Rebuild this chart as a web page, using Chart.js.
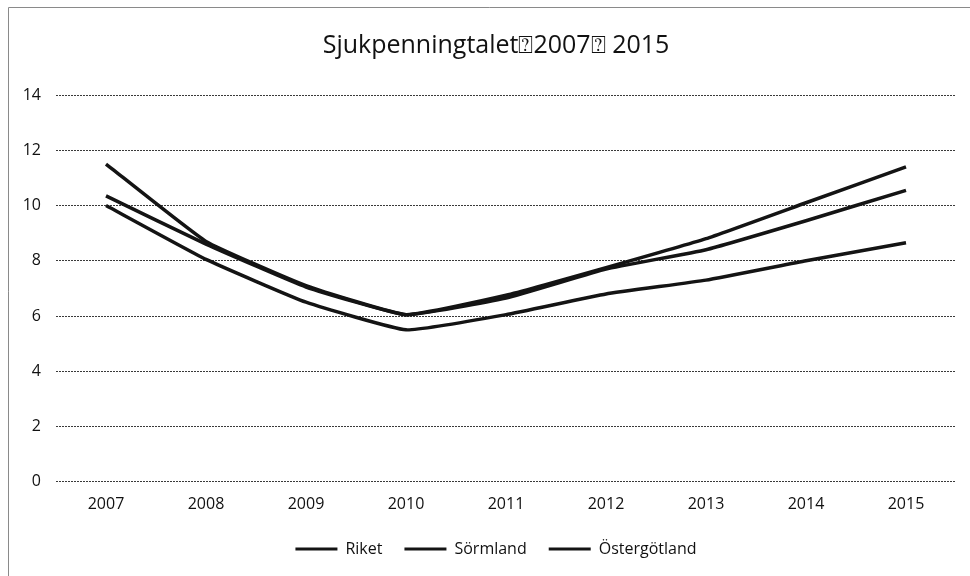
<!DOCTYPE html>
<html>
<head>
<meta charset="utf-8">
<script src="https://cdn.jsdelivr.net/npm/chart.js@4.4.1/dist/chart.umd.min.js"></script>
<style>
  html,body{margin:0;padding:0;background:#fff;}
  #wrap{width:970px;height:576px;position:relative;}
</style>
</head>
<body>
<div id="wrap"><canvas id="c" width="970" height="576"></canvas></div>
<script>
const titleText = "Sjukpenningtalet\u23702007\u2370 2015";
const years = ["2007","2008","2009","2010","2011","2012","2013","2014","2015"];
const riket = [10.35, 8.6, 7.05, 6.05, 6.65, 7.7, 8.4, 9.45, 10.55];
const sormland = [11.5, 8.7, 7.1, 6.05, 6.75, 7.75, 8.8, 10.1, 11.4];
const ostergotland = [10.0, 8.05, 6.5, 5.5, 6.05, 6.8, 7.3, 8.0, 8.65];
const yTicks = [0, 2, 4, 6, 8, 10, 12, 14];

const FONT = "'Open Sans', 'DejaVu Sans', sans-serif";
const lineColor = '#141414';

const scanFrame = {
  id: 'scanFrame',
  afterLayout(chart) {
    // the scanned chart box is wider than the picture: centre title and legend on it
    const shift = 18;
    [chart.titleBlock, chart.legend].forEach(b => {
      if (b) { b.left += shift; b.right += shift; }
    });
  },
  beforeDraw(chart) {
    const ctx = chart.ctx;
    ctx.save();
    ctx.fillStyle = '#fff';
    ctx.fillRect(0, 0, chart.width, chart.height);
    ctx.strokeStyle = '#8a8a8a';
    ctx.lineWidth = 1;
    ctx.beginPath();
    ctx.moveTo(8.5, 576); ctx.lineTo(8.5, 7.5); ctx.lineTo(970, 7.5);
    ctx.stroke();
    ctx.restore();
  }
};

function ds(label, data) {
  return {
    label, data,
    borderColor: lineColor,
    backgroundColor: lineColor,
    borderWidth: 3.5,
    pointRadius: 0,
    pointHoverRadius: 0,
    tension: 0.12,
    fill: false
  };
}

new Chart(document.getElementById('c'), {
  type: 'line',
  data: {
    labels: years,
    datasets: [ds('Riket', riket), ds('Sörmland', sormland), ds('Östergötland', ostergotland)]
  },
  options: {
    responsive: false,
    animation: false,
    layout: { padding: { left: 0, right: 14, top: 10, bottom: 9 } },
    plugins: {
      title: {
        display: true,
        text: titleText,
        color: '#111',
        font: { family: FONT, size: 25, weight: 'normal' },
        padding: { top: 21, bottom: 34 }
      },
      legend: {
        position: 'bottom',
        labels: {
          color: '#111',
          font: { family: FONT, size: 16 },
          boxWidth: 42,
          boxHeight: 3,
          padding: 22,
          generateLabels(chart) {
            const items = Chart.defaults.plugins.legend.labels.generateLabels(chart);
            items.forEach(it => { it.lineWidth = 0; it.strokeStyle = 'rgba(0,0,0,0)'; });
            return items;
          }
        }
      },
      tooltip: { enabled: false }
    },
    scales: {
      x: {
        offset: true,
        grid: { display: false },
        border: { display: false },
        ticks: { color: '#111', font: { family: FONT, size: 16 }, padding: 5, maxRotation: 0 }
      },
      y: {
        min: 0, max: 14,
        afterFit(s) { s.width = 56; },
        afterBuildTicks(s) { s.ticks = yTicks.map(v => ({ value: v })); },
        grid: { color: '#3a3a3a', lineWidth: 1, drawTicks: false },
        border: { display: false, dash: [2, 1] },
        ticks: { color: '#111', font: { family: FONT, size: 16 }, padding: 15 }
      }
    }
  },
  plugins: [scanFrame]
});
</script>
</body>
</html>
